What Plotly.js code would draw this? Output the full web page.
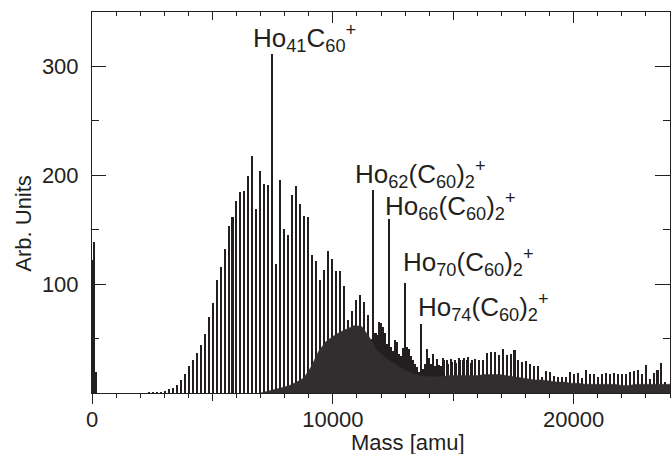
<!DOCTYPE html>
<html>
<head>
<meta charset="utf-8">
<script src="https://cdn.plot.ly/plotly-3.0.1.min.js"></script>
<style>html,body{margin:0;padding:0;background:#fff;}#chart{width:671px;height:454px;}</style>
</head>
<body>
<div id="chart"></div>
<script>
// ---- data ----
// Ho_n C60+ cluster series (cluster size n and peak height)
const nA = [10,11,12,13,14,15,16,17,18,19,20,21,22,23,24,25,26,27,28,29,30,31,32,33,34,35,36,37,38,39,40,41,42,43,44,45,46,47,48,49,50,51,52,53,54,55,56,57,58,59,60,61,62,63,64,65,66,67,68,69,70,71,72,73,74,75,76,77,78,79,80,81,82,83,84,85,86,87,88,89,90,91,92,93,94,95,96,97,98,99,100,101,102,103,104,105,106,107,108,109,110,111,112,113,114,115,116,117,118,119,120,121,122,123,124,125,126,127,128,129,130,131,132,133,134,135,136,137,138,139,140];
const hA = [0.5,0.6,0.8,1.0,1.8,3.7,4.9,7.7,11.6,17.8,24.5,30.6,36.8,43.8,54.5,69.9,83,103.6,115.5,132.7,153.8,161.8,176,184.7,186,199,218,168.8,203.7,192.4,190.9,311,118.9,196,151,145,182,190,174,163,161.8,126.5,121,103.6,113,130,123.5,111.8,111.8,98.3,66.8,75,85,89.8,83.6,71.4,50,55,65,61,45,42,49,36,41,42,34,27,19,22,40,27,25,26,32,30,31.6,30,32,30,30,28,31.5,30,30.6,36.8,38,37.7,34.6,40.7,34.6,35.5,39.8,30,28.5,29,27,25,25,14.7,20,19.3,16,15,14.7,14.5,19,17.8,18.4,14,21.4,17,17.8,14.7,17.8,18.4,17.8,18.4,17.8,17,17.8,19.3,20,20.8,17.8,25.4,13,18.4,21.4,27.6,10];
// Ho_n (C60)2+ cluster series
const nB = [62,63,64,65,66,67,68,69,70,71,72,73,74,75,76,77,78,79,80,81,82,83,84,85,86,87];
const hB = [186.5,53,64,55,160,39,47,34,101,40,30,24,63,27,32,36,31,25,30,27,28.5,28,30,32,33,30];
// low-mass peaks
const lowMass = [30,100,180];
const lowH = [122,139,19];
// dense unresolved background envelope
const bgMass = [7000,7300,7600,7900,8200,8500,8800,9100,9400,9700,10000,10300,10600,10900,11200,11500,11800,12100,12400,12700,13000,13300,13600,13900,14200,14500,14800,15100,15400,15700,16000,16300,16600,16900,17200,17500,17800,18100,18400,18700,19000,19300,19600,19900,20200,20500,20800,21100,21400,21700,22000,22300,22600,22900,23200,23500,23800,24000];
const bgVal = [0,1.5,3,5,7,10,14,24,38,47,52,56,59,62,61,52,40,34,29,25,21,18,16,15,15,15,16,16,16,16,16,17,17,17,16,15,14,13,12,12,11,10,10,9,9,8,8,8,8,8,7,7,8,8,8,8,8,8];
// peak labels
const labelText = ['Ho<sub>41</sub>C<sub>60</sub><sup>+</sup>','Ho<sub>62</sub>(C<sub>60</sub>)<sub>2</sub><sup>+</sup>','Ho<sub>66</sub>(C<sub>60</sub>)<sub>2</sub><sup>+</sup>','Ho<sub>70</sub>(C<sub>60</sub>)<sub>2</sub><sup>+</sup>','Ho<sub>74</sub>(C<sub>60</sub>)<sub>2</sub><sup>+</sup>'];
const labelX = [6600,10830,12080,12830,13470];
const labelY = [326,201,172,120,79];

const xTickVals = [0,10000,20000];
const yTickVals = [100,200,300];

// ---- masses from cluster composition ----
const HO = 164.93, C60 = 720.64;
const massA = nA.map(n => n*HO + C60);
const massB = nB.map(n => n*HO + 2*C60);

const INK = '#231f20';
const barW = 84;

const traces = [
  {type:'scatter', mode:'lines', x:bgMass, y:bgVal, fill:'tozeroy', fillcolor:'#322e2f', line:{color:'#322e2f',width:0.5}, hoverinfo:'skip'},
  {type:'bar', x:massA, y:hA, width:barW, marker:{color:INK, line:{width:0}}},
  {type:'bar', x:massB, y:hB, width:barW, marker:{color:INK, line:{width:0}}},
  {type:'bar', x:lowMass, y:lowH, width:80, marker:{color:INK, line:{width:0}}},
  {type:'scatter', x:[], y:[], xaxis:'x2', yaxis:'y', hoverinfo:'skip'},
  {type:'scatter', x:[], y:[], xaxis:'x3', yaxis:'y', hoverinfo:'skip'},
  {type:'scatter', x:[], y:[], xaxis:'x4', yaxis:'y', hoverinfo:'skip'},
  {type:'scatter', x:[], y:[], xaxis:'x', yaxis:'y2', hoverinfo:'skip'}
];

const xr = [0,24000], yr = [0,350];
const common = {showgrid:false, zeroline:false, tickcolor:INK, tickwidth:1, fixedrange:true};

const layout = {
  width:671, height:454,
  margin:{l:92, r:1, t:12, b:61, pad:0},
  paper_bgcolor:'#ffffff', plot_bgcolor:'#ffffff',
  showlegend:false, barmode:'overlay', bargap:0,
  font:{family:'Liberation Sans, Arial, sans-serif', size:22, color:INK},
  xaxis:Object.assign({}, common, {range:xr, showline:true, mirror:true, linecolor:INK, linewidth:1,
    ticks:'outside', ticklen:10, tickmode:'array', tickvals:xTickVals, ticktext:xTickVals.map(String),
    ticklabelstandoff:-3,
    minor:{ticks:'outside', ticklen:4, tickmode:'linear', tick0:0, dtick:1000, tickcolor:INK, tickwidth:1, showgrid:false}}),
  xaxis2:Object.assign({}, common, {range:xr, overlaying:'x', side:'top', anchor:'y', showline:false,
    ticks:'inside', ticklen:11, tickmode:'array', tickvals:xTickVals, showticklabels:false,
    minor:{ticks:'inside', ticklen:4, tickmode:'linear', tick0:0, dtick:1000, tickcolor:INK, tickwidth:1, showgrid:false}}),
  xaxis3:Object.assign({}, common, {range:xr, overlaying:'x', side:'bottom', anchor:'y', showline:false,
    ticks:'outside', ticklen:7, tickmode:'array', tickvals:[5000,15000], showticklabels:false}),
  xaxis4:Object.assign({}, common, {range:xr, overlaying:'x', side:'top', anchor:'y', showline:false,
    ticks:'inside', ticklen:8, tickmode:'array', tickvals:[5000,15000], showticklabels:false}),
  yaxis:Object.assign({}, common, {range:yr, showline:true, mirror:true, linecolor:INK, linewidth:1,
    ticks:'inside', ticklen:14, tickmode:'array', tickvals:yTickVals, ticktext:yTickVals.map(String),
    ticklabelstandoff:8,
    minor:{ticks:'inside', ticklen:7, tickmode:'array', tickvals:[50,150,250], tickcolor:INK, tickwidth:1, showgrid:false}}),
  yaxis2:Object.assign({}, common, {range:yr, overlaying:'y', side:'right', anchor:'x', showline:false,
    ticks:'inside', ticklen:15, tickmode:'array', tickvals:yTickVals, showticklabels:false,
    minor:{ticks:'inside', ticklen:7, tickmode:'array', tickvals:[50,150,250], tickcolor:INK, tickwidth:1, showgrid:false}}),
  annotations:[
    {text:'Mass [amu]', xref:'paper', yref:'paper', x:0.547, y:-0.13, xanchor:'center', yanchor:'middle', showarrow:false, font:{size:22, color:INK}},
    {text:'Arb. Units', xref:'paper', yref:'paper', x:-0.12, y:0.446, xanchor:'center', yanchor:'middle', textangle:-90, showarrow:false, font:{size:22, color:INK}}
  ].concat(labelText.map((t,i) => ({text:t, xref:'x', yref:'y', x:labelX[i], y:labelY[i], xanchor:'left', yanchor:'middle', showarrow:false, font:{size:26, color:INK}})))
};

Plotly.newPlot('chart', traces, layout, {staticPlot:true, displayModeBar:false});
</script>
</body>
</html>
